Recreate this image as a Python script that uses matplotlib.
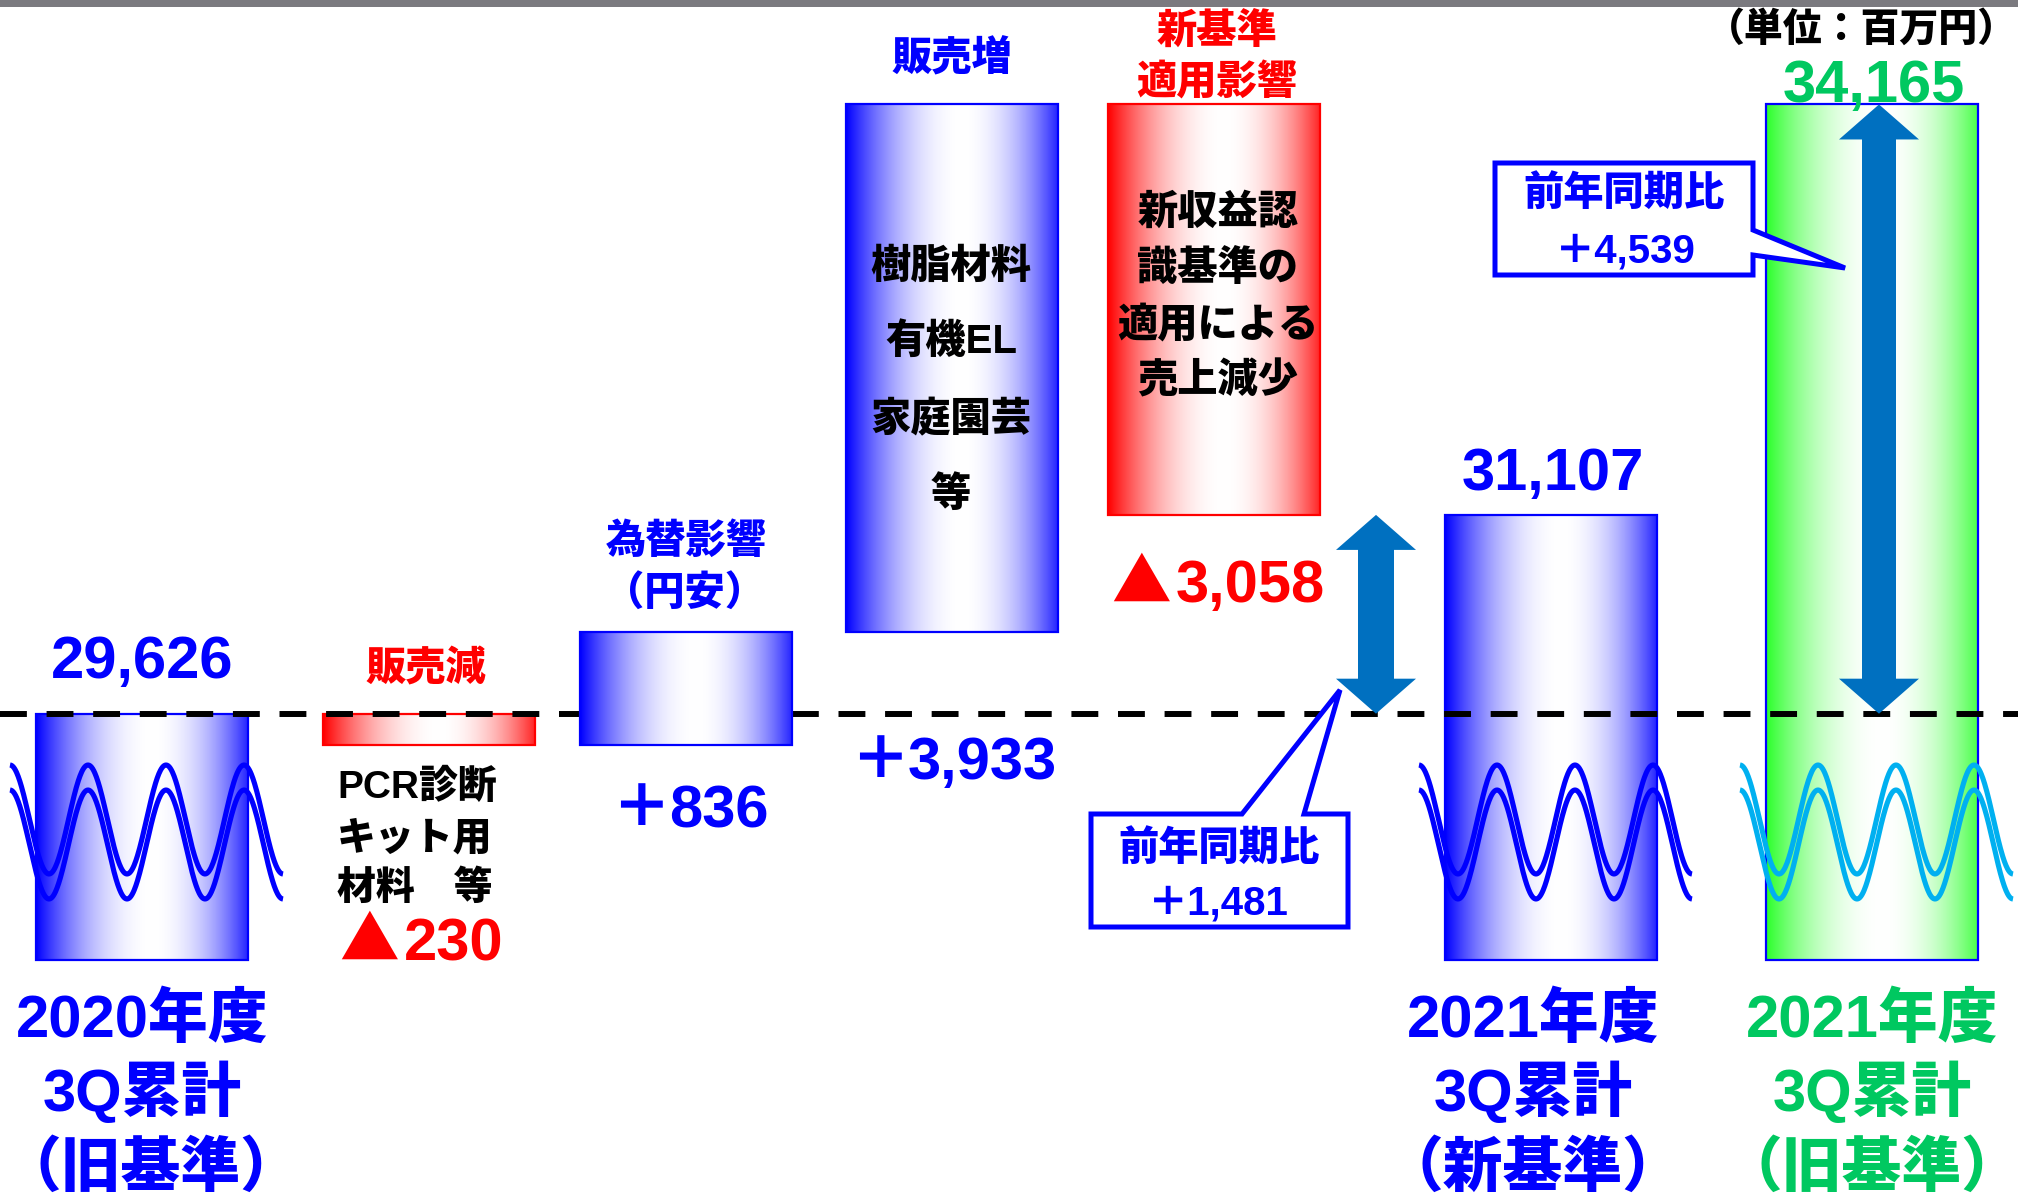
import numpy as np
import matplotlib
matplotlib.use("Agg")
import matplotlib.pyplot as plt
from matplotlib import transforms
from matplotlib.patches import Rectangle, Polygon
from matplotlib.colors import to_rgb

# ---------------- data (単位：百万円) ----------------
start_value = 29626                      # 2020年度 3Q累計（旧基準）
step_values = [-230, 836, 3933, -3058]   # 販売減, 為替影響, 販売増, 新基準適用影響
start_label = ["2020年度", "3Q累計", "（旧基準）"]
end_new_label = ["2021年度", "3Q累計", "（新基準）"]
end_old_label = ["2021年度", "3Q累計", "（旧基準）"]
step_titles = [["販売減"], ["為替影響", "（円安）"], ["販売増"], ["新基準", "適用影響"]]
step_notes = [["PCR診断", "キット用", "材料　等"],
              ["樹脂材料", "有機EL", "家庭園芸", "等"],
              ["新収益認", "識基準の", "適用による", "売上減少"]]
yoy_title = "前年同期比"
unit_text = "（単位：百万円）"

# waterfall levels
levels = [start_value]
for s in step_values:
    levels.append(levels[-1] + s)
end_new = levels[-1]
end_old = end_new - step_values[3]
yoy_new = end_new - start_value
yoy_old = end_old - start_value

# ---------------- layout ----------------
W, H = 2018, 1197
fig = plt.figure(figsize=(W / 100, H / 100), dpi=100)
ax = fig.add_axes([0, 0, 1, 1])
ax.axis("off")
Y_TOP, Y_BOT = 34943.3, 26025.1          # value range covering the canvas height
FLOOR = 27790                            # cut-off base of the broken axis
ax.set_xlim(0, W)
ax.set_ylim(Y_BOT, Y_TOP)
vpp = (Y_TOP - Y_BOT) / H                # value units per pixel

# pixel coordinates measured from the top-left corner
px = transforms.Affine2D().scale(1 / W, -1 / H).translate(0, 1) + fig.transFigure

FONT = ["Liberation Sans", "Noto Sans CJK JP"]
CJK = ["Noto Sans CJK JP", "DejaVu Sans"]
WEIGHT = "black"
BLUE, RED, GREEN_BAR, GREEN_TXT = "#0000FF", "#FF0000", "#2BFF2B", "#00C860"
ARROW = "#0070C0"
CYAN = "#00B0F0"

bar_x = [142, 429, 686, 952, 1214, 1551, 1872]
BW = 212


def text(x, yc, s, size, color, ha="center", family=FONT):
    em = size * 100 / 72
    ax.text(x, yc + 0.37 * em, s, transform=px, ha=ha, va="baseline",
            fontsize=size, color=color, family=family, fontweight=WEIGHT, zorder=10)


def amount(x_split, yc, v, size, color):
    # sign in the CJK face, figures in the Latin face
    if v > 0:
        text(x_split + 5, yc, "＋", size, color, ha="right", family=CJK)
    else:
        text(x_split - 2, yc, "▲", size, color, ha="right", family=CJK)
    text(x_split + 3, yc, f"{abs(v):,}", size, color, ha="left")


def grad_bar(xc, v0, v1, color, edge, z):
    x0, x1 = xc - BW / 2, xc + BW / 2
    lo, hi = min(v0, v1), max(v0, v1)
    t = np.linspace(0, 1, 300)
    c = 0.55
    amt = np.where(t < c, ((c - t) / c) ** 2, 0.85 * ((t - c) / (1 - c)) ** 2)
    col = np.array(to_rgb(color))
    img = (1 - amt)[:, None] * np.ones(3) + amt[:, None] * col
    ax.imshow(img[None, :, :], extent=[x0, x1, lo, hi], aspect="auto",
              interpolation="bilinear", zorder=z)
    ax.add_patch(Rectangle((x0, lo), BW, hi - lo, fill=False, edgecolor=edge,
                           lw=1.6, zorder=z + 0.1))


def waves(xc, color):
    xs = np.linspace(xc - 132, xc + 141, 500)
    period = (xs[-1] - xs[0]) / 3.5
    for yc in (819.5, 844.5):
        ys = yc - 54.5 * np.cos(2 * np.pi * (xs - xs[0]) / period)
        ax.plot(xs, ys, transform=px, color=color, lw=3.7, zorder=6,
                solid_capstyle="butt")


def double_arrow(xc, v_top, v_bot, shaft_hw, head_hw, head_px):
    hl = head_px * vpp
    pts = [(xc, v_top), (xc + head_hw, v_top - hl), (xc + shaft_hw, v_top - hl),
           (xc + shaft_hw, v_bot + hl), (xc + head_hw, v_bot + hl), (xc, v_bot),
           (xc - head_hw, v_bot + hl), (xc - shaft_hw, v_bot + hl),
           (xc - shaft_hw, v_top - hl), (xc - head_hw, v_top - hl)]
    ax.add_patch(Polygon(pts, closed=True, facecolor=ARROW, edgecolor="none", zorder=7))


def callout(pts):
    ax.add_patch(Polygon(pts, closed=True, transform=px, facecolor="white",
                         edgecolor=BLUE, lw=3.6, joinstyle="miter", zorder=8))


def signed(v):
    return ("＋" if v > 0 else "▲") + f"{abs(v):,}"


# top rule
ax.add_patch(Rectangle((0, 0), W, 7, transform=px, facecolor="#7B7A7F",
                       edgecolor="none", zorder=9, clip_on=False))

# bars
grad_bar(bar_x[0], FLOOR, start_value, BLUE, BLUE, 2)
grad_bar(bar_x[1], levels[0], levels[1], RED, RED, 2)
grad_bar(bar_x[2], levels[1], levels[2], BLUE, BLUE, 4)
grad_bar(bar_x[3], levels[2], levels[3], BLUE, BLUE, 2)
grad_bar(bar_x[4], levels[3], levels[4], RED, RED, 2)
grad_bar(bar_x[5], FLOOR, end_new, BLUE, BLUE, 2)
grad_bar(bar_x[6], FLOOR, end_old, GREEN_BAR, BLUE, 2)

# reference level of the previous year
ax.axhline(start_value, color="black", lw=4.3, linestyle=(0, (4.5, 3.3)), zorder=3)

# axis-break waves
waves(bar_x[0], BLUE)
waves(bar_x[5], BLUE)
waves(bar_x[6], CYAN)

# year-on-year arrows
double_arrow(1376, end_new, start_value, 18, 40, 35)
double_arrow(1879, end_old, start_value, 17, 40, 35)

# callouts
callout([(1091, 814), (1242, 814), (1340, 690), (1304, 814), (1348, 814),
         (1348, 927), (1091, 927)])
callout([(1495, 163), (1753, 163), (1753, 230), (1845, 268), (1753, 255),
         (1753, 275), (1495, 275)])
text(1219, 845, yoy_title, 29, BLUE)
text(1218, 900, signed(yoy_new), 29, BLUE)
text(1624, 190, yoy_title, 29, BLUE)
text(1625, 248, signed(yoy_old), 29, BLUE)

# totals
text(142, 656, f"{start_value:,}", 43, BLUE)
text(1553, 468, f"{end_new:,}", 43, BLUE)
text(1874, 80, f"{end_old:,}", 43, GREEN_TXT)
text(2017, 26, unit_text, 28, "black", ha="right")

# step titles
text(426, 666, step_titles[0][0], 29, RED)
text(686, 538, step_titles[1][0], 29, BLUE)
text(685, 590, step_titles[1][1], 29, BLUE)
text(952, 56, step_titles[2][0], 29, BLUE)
text(1217, 28, step_titles[3][0], 29, RED)
text(1217, 80, step_titles[3][1], 29, RED)

# step amounts
amount(401, 938, step_values[0], 43, RED)
amount(666, 805, step_values[1], 43, BLUE)
amount(905, 757, step_values[2], 43, BLUE)
amount(1173, 580, step_values[3], 43, RED)

# notes
for s, y in zip(step_notes[0], [784, 835, 885]):
    text(337, y, s, 28, "black", ha="left")
for s, y in zip(step_notes[1], [263, 338, 416, 491]):
    text(951, y, s, 29, "black")
for s, y in zip(step_notes[2], [209, 265, 322, 378]):
    text(1218, y, s, 29, "black")

# period labels (the bracketed line of the first column is kept inside the left edge)
for lines, xs, col in [(start_label, [142, 142, 151], BLUE),
                       (end_new_label, [1533] * 3, BLUE),
                       (end_old_label, [1872] * 3, GREEN_TXT)]:
    for s, x, y in zip(lines, xs, [1015, 1089, 1164]):
        text(x, y, s, 43, col)

fig.savefig("out.png", dpi=100)
